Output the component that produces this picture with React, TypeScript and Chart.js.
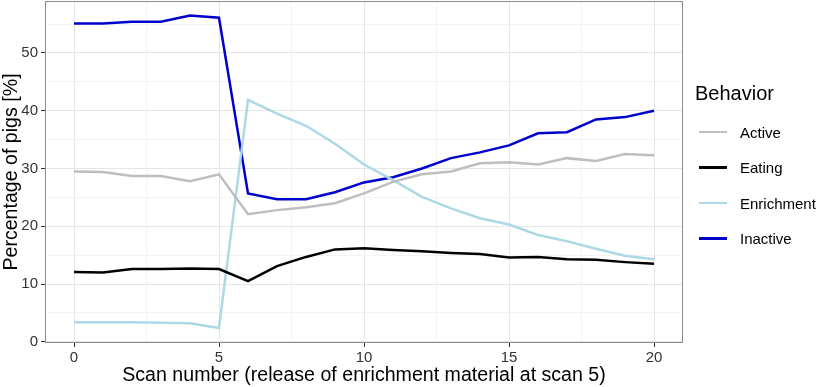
import React, { useEffect, useRef } from "react";
import { Chart, registerables } from "chart.js";

Chart.register(...registerables);

const scans = [0, 1, 2, 3, 4, 5, 6, 7, 8, 9, 10, 11, 12, 13, 14, 15, 16, 17, 18, 19, 20];
const active = [29.5, 29.4, 28.7, 28.7, 27.8, 29.0, 22.1, 22.8, 23.3, 24.0, 25.7, 27.7, 29.0, 29.5, 30.9, 31.1, 30.7, 31.8, 31.3, 32.5, 32.3];
const eating = [12.1, 12.0, 12.6, 12.6, 12.7, 12.6, 10.5, 13.1, 14.7, 16.0, 16.2, 15.9, 15.7, 15.4, 15.2, 14.6, 14.7, 14.3, 14.2, 13.8, 13.5];
const enrichment = [3.4, 3.4, 3.4, 3.3, 3.2, 2.4, 41.9, 39.5, 37.4, 34.3, 30.7, 28.0, 25.1, 23.1, 21.4, 20.3, 18.5, 17.4, 16.1, 14.9, 14.3];
const inactive = [55.1, 55.1, 55.4, 55.4, 56.5, 56.1, 25.7, 24.7, 24.7, 25.9, 27.6, 28.5, 30.0, 31.8, 32.8, 34.0, 36.1, 36.3, 38.5, 38.9, 40.0];

const seriesNames = ["Active", "Eating", "Enrichment", "Inactive"];
const seriesColors = ["#bebebe", "#000000", "#add8e6", "#0000cd"];
const xTicks = [0, 2.5, 5, 7.5, 10, 12.5, 15, 17.5, 20];
const yTicks = [0, 5, 10, 15, 20, 25, 30, 35, 40, 45, 50, 55];

const FONT = "'Liberation Sans', Arial, sans-serif";

export default function App() {
  const ref = useRef<HTMLCanvasElement>(null);
  useEffect(() => {
    const values = [active, eating, enrichment, inactive];
    const panelBorder = {
      id: "panelBorder",
      afterDraw(chart: any) {
        const { ctx, chartArea } = chart;
        ctx.save();
        ctx.strokeStyle = "#8c8c8c";
        ctx.lineWidth = 1;
        ctx.strokeRect(chartArea.left + 0.5, chartArea.top + 0.5, chartArea.right - chartArea.left - 1, chartArea.bottom - chartArea.top - 1);
        ctx.restore();
      },
    };
    const chart = new Chart(ref.current!, {
      type: "line",
      data: {
        datasets: seriesNames.map((name, i) => ({
          label: name,
          data: scans.map((s, j) => ({ x: s, y: values[i][j] })),
          borderColor: seriesColors[i],
          backgroundColor: seriesColors[i],
          borderWidth: 2.5,
          pointRadius: 0,
          tension: 0,
        })),
      },
      options: {
        animation: false,
        responsive: false,
        layout: { padding: { top: 1, right: 137, left: 0, bottom: 0 } },
        plugins: { legend: { display: false }, tooltip: { enabled: false } },
        scales: {
          x: {
            type: "linear",
            min: -1,
            max: 21,
            afterBuildTicks: (scale: any) => {
              scale.ticks = xTicks.map((v) => ({ value: v }));
            },
            afterFit: (scale: any) => {
              scale.height = 44;
              scale.paddingLeft = 0;
              scale.paddingRight = 0;
            },
            border: { display: false },
            grid: {
              color: (c: any) => (c.tick && c.tick.value % 5 === 0 ? "#e6e6e6" : "#f3f3f3"),
              tickColor: (c: any) => (c.tick && c.tick.value % 5 === 0 ? "#333333" : "rgba(0,0,0,0)"),
              tickLength: 4,
              lineWidth: 1,
            },
            ticks: {
              autoSkip: false,
              maxRotation: 0,
              padding: 2,
              color: "#333333",
              font: { family: FONT, size: 15 },
              callback: (v: any) => (Number(v) % 5 === 0 ? String(v) : ""),
            },
            title: {
              display: true,
              text: "Scan number (release of enrichment material at scan 5)",
              color: "#000000",
              font: { family: FONT, size: 19.6 },
              padding: { top: 0, bottom: 0 },
            },
          },
          y: {
            type: "linear",
            min: -0.2,
            max: 59,
            afterBuildTicks: (scale: any) => {
              scale.ticks = yTicks.map((v) => ({ value: v }));
            },
            afterFit: (scale: any) => {
              scale.width = 45;
              scale.paddingTop = 0;
              scale.paddingBottom = 0;
            },
            border: { display: false },
            grid: {
              color: (c: any) => (c.tick && c.tick.value % 10 === 0 ? "#e6e6e6" : "#f3f3f3"),
              tickColor: (c: any) => (c.tick && c.tick.value % 10 === 0 ? "#333333" : "rgba(0,0,0,0)"),
              tickLength: 4,
              lineWidth: 1,
            },
            ticks: {
              autoSkip: false,
              padding: 3,
              color: "#333333",
              font: { family: FONT, size: 15 },
              callback: (v: any) => (Number(v) % 10 === 0 ? String(v) : ""),
            },
            title: {
              display: true,
              text: "Percentage of pigs [%]",
              color: "#000000",
              font: { family: FONT, size: 19.6 },
              padding: { top: 0, bottom: 2 },
            },
          },
        },
      },
      plugins: [panelBorder],
    });
    return () => chart.destroy();
  }, []);

  return (
    <div style={{ position: "absolute", left: 0, top: 0, width: 820, height: 387, background: "#ffffff", fontFamily: FONT }}>
      <canvas ref={ref} width={820} height={387} style={{ display: "block" }} />
      <div style={{ position: "absolute", left: 695, top: 82, fontSize: 20, color: "#000" }}>Behavior</div>
      {seriesNames.map((name, i) => (
        <div key={name} style={{ position: "absolute", left: 699, top: 122 + i * 35.5, height: 20, display: "flex", alignItems: "center" }}>
          <div style={{ width: 28, height: 2.5, background: seriesColors[i] }} />
          <div style={{ marginLeft: 13, fontSize: 15, color: "#000" }}>{name}</div>
        </div>
      ))}
    </div>
  );
}
